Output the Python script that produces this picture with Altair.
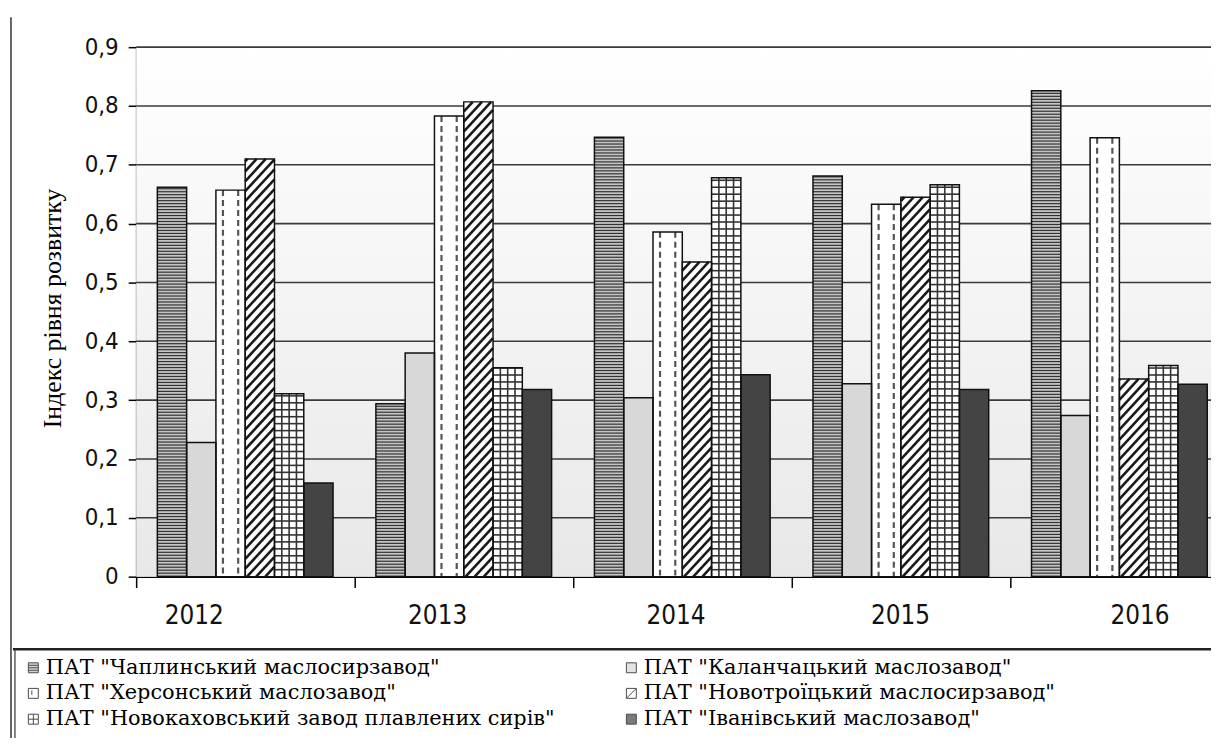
import altair as alt
import pandas as pd

# ---------------- data ----------------
YEARS = ["2012", "2013", "2014", "2015", "2016"]
COMPANIES = [
    'ПАТ "Чаплинський маслосирзавод"',
    'ПАТ "Каланчацький маслозавод"',
    'ПАТ "Херсонський маслозавод"',
    'ПАТ "Новотроїцький маслосирзавод"',
    'ПАТ "Новокаховський завод плавлених сирів"',
    'ПАТ "Іванівський маслозавод"',
]
CHAPLYNSKYI = [0.662, 0.294, 0.747, 0.681, 0.826]
KALANCHAK = [0.228, 0.380, 0.304, 0.328, 0.274]
KHERSON = [0.657, 0.783, 0.586, 0.633, 0.746]
NOVOTROITSK = [0.710, 0.807, 0.535, 0.645, 0.336]
NOVOKAKHOVKA = [0.311, 0.355, 0.678, 0.666, 0.359]
IVANIVKA = [0.159, 0.318, 0.343, 0.318, 0.327]
Y_TICKS = [0, 0.1, 0.2, 0.3, 0.4, 0.5, 0.6, 0.7, 0.8, 0.9]
Y_TITLE = "Індекс рівня розвитку"

SERIES = [CHAPLYNSKYI, KALANCHAK, KHERSON, NOVOTROITSK, NOVOKAKHOVKA, IVANIVKA]

# ---------------- layout ----------------
PLOT_W = 1082
PLOT_H = 533
CAT_PX = 220
XMAX = PLOT_W / CAT_PX
GROUP_PAD = 0.097
BAR_W = 0.134
PX = PLOT_H / 0.9  # pixels per data unit
LABEL_SHIFT = [58, 83, 103, 109, 130]  # px shift of each year label from its tick

rows = []
for ci, (name, vals) in enumerate(zip(COMPANIES, SERIES)):
    for yi, (yr, v) in enumerate(zip(YEARS, vals)):
        x0 = yi + GROUP_PAD + ci * BAR_W
        rows.append({"year": yr, "company": name, "value": v, "x0": x0, "x1": x0 + BAR_W})
df = pd.DataFrame(rows)

XS = alt.Scale(domain=[0, XMAX], nice=False, zero=False)
YS = alt.Scale(domain=[0, 0.9], nice=False, zero=True)

NUM_FONT = "DejaVu Sans Condensed, DejaVu Sans"
SERIF = "Liberation Serif"
LEG_FONT = "DejaVu Serif"

X_AXIS = alt.Axis(
    title=None, values=[0, 1, 2, 3, 4], grid=False,
    labelExpr=f"{YEARS}[datum.value]", labelAlign="center",
    labelOffset={
        "condition": [{"test": f"datum.value == {i}", "value": s} for i, s in enumerate(LABEL_SHIFT)],
        "value": LABEL_SHIFT[0],
    },
    labelFont=NUM_FONT, labelFontSize=26, labelColor="#111111",
    labelPadding=15, tickSize=11, tickColor="black", tickWidth=1.5,
    domainColor="black", domainWidth=1.5, labelFlush=False, labelOverlap=False,
)
Y_AXIS = alt.Axis(
    title=Y_TITLE, values=Y_TICKS, grid=False,
    labelExpr="datum.value == 0 ? '0' : replace(format(datum.value, '.1f'), '.', ',')",
    labelFont=NUM_FONT, labelFontSize=24, labelColor="#111111", labelPadding=10,
    tickSize=8, tickColor="black", tickWidth=1.5, domainColor="black", domainWidth=1.5,
    titleFont=SERIF, titleFontSize=26, titleFontWeight="normal",
    titleColor="black", titleX=-84, titleY=PLOT_H / 2 - 4, titleAngle=270,
    titleAlign="center", titleBaseline="middle",
)


def X(f):
    return alt.X(f, type="quantitative", scale=XS, axis=X_AXIS)


def Y(f):
    return alt.Y(f, type="quantitative", scale=YS, axis=Y_AXIS)


XD0 = alt.XDatum(0, type="quantitative", scale=XS, axis=X_AXIS)

# background gradient of plot area
bg = alt.Chart(pd.DataFrame({"a": [0]})).mark_rect(
    color=alt.LinearGradient(
        gradient="linear",
        stops=[alt.GradientStop(color="#ffffff", offset=0),
               alt.GradientStop(color="#e8e8e8", offset=1)],
        x1=0, x2=0, y1=0, y2=1,
    )
).encode(
    x=XD0, x2=alt.datum(XMAX),
    y=alt.YDatum(0, type="quantitative", scale=YS, axis=Y_AXIS), y2=alt.datum(0.9),
)

grid = alt.Chart(pd.DataFrame({"t": Y_TICKS[1:]})).mark_rule(
    color="#3a3a3a", strokeWidth=1.6
).encode(y=Y("t"), x=XD0, x2=alt.datum(XMAX))

FILLS = ["#c4c4c4", "#d8d8d8", "#ffffff", "#ffffff", "#ffffff", "#444444"]
SHAPES = [
    "M-1,-1H1V1H-1Z M-1,-0.5H1 M-1,0H1 M-1,0.5H1",
    "M-1,-1H1V1H-1Z",
    "M-1,-1H1V1H-1Z M-0.3,-0.6V0.3",
    "M-1,-1H1V1H-1Z M-1,1L1,-1",
    "M-1,-1H1V1H-1Z M0,-1V1 M-1,0H1",
    "M-1,-1H1V1H-1Z",
]
FILL_SCALE = alt.Scale(domain=COMPANIES, range=FILLS)
SHAPE_SCALE = alt.Scale(domain=COMPANIES, range=SHAPES)
LEG = alt.Legend(
    title=None,
    symbolStrokeColor="black", symbolStrokeWidth=1, symbolSize=100,
    orient="none", legendX=-123, legendY=605, columns=2, direction="horizontal",
    gridAlign="all", columnPadding=66, rowPadding=4, padding=9,
    labelFont=LEG_FONT, labelFontSize=21, labelColor="black", labelLimit=1000,
    symbolOffset=0, labelOffset=2,
)

base = alt.Chart(df)

bars = base.mark_rect().encode(
    x=X("x0"), x2="x1", y=Y("value"), y2=alt.datum(0),
    fill=alt.Fill("company:N", scale=FILL_SCALE, legend=LEG),
)

# horizontal stripes (Чаплинський)
STRIPE = 3 / PX
h_stripes = base.transform_filter(
    alt.datum.company == COMPANIES[0]
).transform_calculate(
    s=f"sequence({0.5 / PX}, datum.value, {STRIPE})"
).transform_flatten(["s"]).mark_rule(color="#333333", strokeWidth=1.2).encode(
    x=X("x0"), x2="x1", y=Y("s")
)

# dashed vertical lines (Херсонський)
dashes = base.transform_filter(
    alt.datum.company == COMPANIES[2]
).transform_calculate(k="[0.24, 0.76]").transform_flatten(["k"]).transform_calculate(
    xk="datum.x0 + datum.k * (datum.x1 - datum.x0)"
).mark_rule(color="#555555", strokeWidth=2.2, strokeDash=[6, 4]).encode(
    x=X("xk"), y=Y("value"), y2=alt.datum(0)
)

# diagonal stripes (Новотроїцький)
RISE = 32 / PX
DP = 10 / PX
diag = base.transform_filter(
    alt.datum.company == COMPANIES[3]
).transform_calculate(
    d0=f"sequence({-RISE}, datum.value, {DP})"
).transform_flatten(["d0"]).transform_calculate(
    ya="max(datum.d0, 0)", yb=f"min(datum.d0 + {RISE}, datum.value)"
).transform_filter("datum.yb > datum.ya").transform_calculate(
    xa=f"datum.x0 + (datum.ya - datum.d0) / {RISE} * (datum.x1 - datum.x0)",
    xb=f"datum.x0 + (datum.yb - datum.d0) / {RISE} * (datum.x1 - datum.x0)",
).mark_rule(color="#1a1a1a", strokeWidth=2.6, strokeCap="butt").encode(
    x=X("xa"), x2="xb", y=Y("ya"), y2="yb"
)

# grid pattern (Новокаховський)
GSTEP = 7 / PX
grid_v = base.transform_filter(
    alt.datum.company == COMPANIES[4]
).transform_calculate(k="[0.25, 0.5, 0.75]").transform_flatten(["k"]).transform_calculate(
    xk="datum.x0 + datum.k * (datum.x1 - datum.x0)"
).mark_rule(color="#333333", strokeWidth=1.6).encode(
    x=X("xk"), y=Y("value"), y2=alt.datum(0)
)
grid_h = base.transform_filter(
    alt.datum.company == COMPANIES[4]
).transform_calculate(
    s=f"sequence({GSTEP}, datum.value, {GSTEP})"
).transform_flatten(["s"]).mark_rule(color="#333333", strokeWidth=1.6).encode(
    x=X("x0"), x2="x1", y=Y("s")
)

outline = base.mark_rect(filled=False, color="#111111", strokeWidth=1.5).encode(
    x=X("x0"), x2="x1", y=Y("value"), y2=alt.datum(0)
)

legend_layer = base.transform_filter("false").mark_point(filled=True).encode(
    x=X("x0"), y=Y("value"),
    fill=alt.Fill("company:N", scale=FILL_SCALE, legend=LEG),
    shape=alt.Shape("company:N", scale=SHAPE_SCALE, legend=LEG),
)

# page frame and legend box borders (decoration)
one = pd.DataFrame({"a": [0]})
frame = alt.Chart(one).mark_rule(color="#333333", strokeWidth=1.5).encode(
    x=alt.value(-126), y=alt.value(-30), y2=alt.value(700)
)
legend_top = alt.Chart(one).mark_rule(color="#222222", strokeWidth=2.5).encode(
    x=alt.value(-124), x2=alt.value(PLOT_W + 10), y=alt.value(606)
)
legend_left = alt.Chart(one).mark_rule(color="#333333", strokeWidth=1.2).encode(
    x=alt.value(-122), y=alt.value(606), y2=alt.value(700)
)

chart = alt.layer(
    bg, grid, bars, h_stripes, dashes, diag, grid_v, grid_h, outline, legend_layer,
    frame, legend_top, legend_left,
).properties(
    width=PLOT_W, height=PLOT_H,
    padding={"left": 129, "top": 37, "right": 0, "bottom": 160},
    autosize=alt.AutoSizeParams(type="none"),
    background="white",
).configure_view(stroke=None).configure_legend(
    labelFont=LEG_FONT, labelFontSize=21, labelColor="black", labelLimit=1000,
)

chart.save("out.html", embed_options={"renderer": "svg", "actions": False})
